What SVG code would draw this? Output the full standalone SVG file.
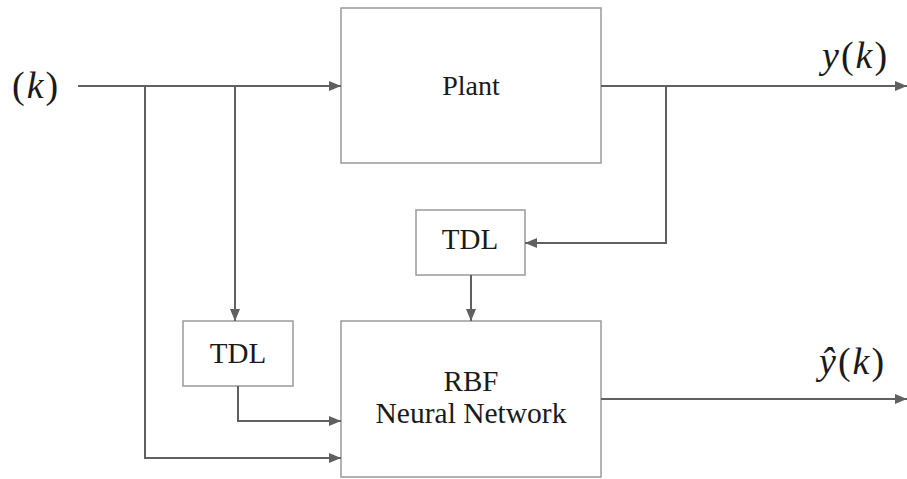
<svg xmlns="http://www.w3.org/2000/svg" width="907" height="479" viewBox="0 0 907 479">
  <style>
    .box { fill: #ffffff; stroke: #9a9a9a; stroke-width: 1.5; }
    .wire { fill: none; stroke: #606060; stroke-width: 2; }
    .lbl { fill: #1a1a1a; text-anchor: middle; }
    .math { fill: #1a1a1a; letter-spacing: 2px; }
  </style>
  <defs>
    <marker id="arrow" viewBox="0 0 12 10" refX="12" refY="5" markerWidth="12" markerHeight="10" markerUnits="userSpaceOnUse" orient="auto">
      <path d="M0,0 L12,5 L0,10 Z" fill="#606060"/>
    </marker>
  </defs>

  <rect width="907" height="479" fill="#ffffff"/>

  <g id="plant">
    <rect class="box" x="341" y="8" width="260" height="155"/>
    <text class="lbl" x="471" y="95" style="font-family: 'Liberation Serif', serif; font-size: 28px">Plant</text>
  </g>

  <g id="tdl-output">
    <rect class="box" x="416" y="210" width="109" height="65"/>
    <text class="lbl" x="470" y="249" style="font-family: 'Liberation Serif', serif; font-size: 29px">TDL</text>
  </g>

  <g id="tdl-input">
    <rect class="box" x="183" y="321" width="110" height="65"/>
    <text class="lbl" x="238" y="363" style="font-family: 'Liberation Serif', serif; font-size: 29px">TDL</text>
  </g>

  <g id="rbf">
    <rect class="box" x="341" y="321" width="260" height="156"/>
    <text class="lbl" x="471" y="391" style="font-family: 'Liberation Serif', serif; font-size: 29px">RBF</text>
    <text class="lbl" x="471" y="423" style="font-family: 'Liberation Serif', serif; font-size: 29.5px">Neural Network</text>
  </g>

  <g id="labels">
    <text class="math" x="12" y="98" style="font-family: 'Liberation Serif', serif; font-size: 38px">(<tspan font-style="italic">k</tspan>)</text>
    <text class="math" x="822" y="68" style="font-family: 'Liberation Serif', serif; font-size: 38px"><tspan font-style="italic">y</tspan>(<tspan font-style="italic">k</tspan>)</text>
    <text class="math" x="819" y="374" style="font-family: 'Liberation Serif', serif; font-size: 38px"><tspan font-style="italic">ŷ</tspan>(<tspan font-style="italic">k</tspan>)</text>
  </g>

  <g id="connectors">
    <!-- input to plant -->
    <path class="wire" d="M78,86 H341" marker-end="url(#arrow)"/>
    <!-- input branch to RBF bottom -->
    <path class="wire" d="M145,86 V458 H341" marker-end="url(#arrow)"/>
    <!-- input branch to input TDL -->
    <path class="wire" d="M235,86 V321" marker-end="url(#arrow)"/>
    <!-- input TDL to RBF -->
    <path class="wire" d="M238,386 V421 H341" marker-end="url(#arrow)"/>
    <!-- plant output -->
    <path class="wire" d="M601,86 H907" marker-end="url(#arrow)"/>
    <!-- output feedback to output TDL -->
    <path class="wire" d="M666,86 V243 H525" marker-end="url(#arrow)"/>
    <!-- output TDL to RBF -->
    <path class="wire" d="M471,275 V321" marker-end="url(#arrow)"/>
    <!-- RBF estimate -->
    <path class="wire" d="M601,399 H907" marker-end="url(#arrow)"/>
  </g>
</svg>
